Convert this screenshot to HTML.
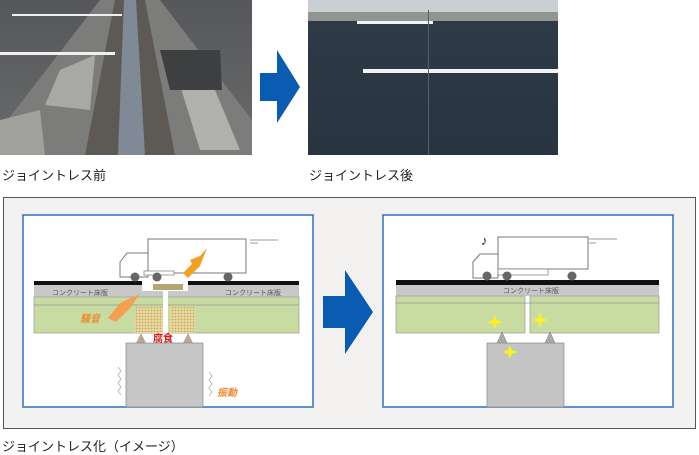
<!DOCTYPE html>
<html><head><meta charset="utf-8"><style>
body{margin:0;width:699px;height:454px;background:#fff;position:relative;overflow:hidden;font-family:"Liberation Sans","Noto Sans CJK JP",sans-serif;}
.a{position:absolute}
.cap{position:absolute;font-size:13px;color:#222;}
</style></head><body>
<svg class="a" style="left:0;top:0" width="699" height="454">
<defs>
<linearGradient id="g1" x1="0" y1="0" x2="0" y2="1"><stop offset="0" stop-color="#55575a"/><stop offset="1" stop-color="#6a6b6c"/></linearGradient>
<linearGradient id="g2" x1="0" y1="0" x2="0" y2="1"><stop offset="0" stop-color="#2f3b48"/><stop offset="1" stop-color="#283440"/></linearGradient>
<pattern id="dots" width="3" height="3" patternUnits="userSpaceOnUse"><rect width="3" height="3" fill="#e8d9a0"/><circle cx="1.5" cy="1.5" r="0.9" fill="#c8a860"/></pattern>
</defs>
<rect x="0" y="0" width="252" height="155" fill="url(#g1)"/>
<polygon points="100,0 160,0 252,120 252,155 0,155 0,130" fill="#7c7c7a"/>
<polygon points="115,0 145,0 175,155 85,155" fill="#5d5a55"/>
<polygon points="124,0 136,0 145,155 118,155" fill="#7f8a96"/>
<polygon points="60,70 95,55 90,110 45,105" fill="#a8a8a4"/>
<polygon points="180,85 215,90 240,150 200,150" fill="#b0b0ac"/>
<polygon points="0,120 40,110 45,155 0,155" fill="#a0a09c"/>
<polygon points="160,50 220,50 222,90 170,90" fill="#3e3f40"/>
<rect x="12" y="14" width="110" height="2" fill="#f0f0f0"/>
<rect x="0" y="52" width="115" height="3" fill="#f0f0f0"/>
<rect x="308" y="0" width="250" height="155" fill="url(#g2)"/>
<rect x="308" y="0" width="250" height="12" fill="#c9cfd2"/>
<rect x="308" y="12" width="250" height="9" fill="#8f9691"/>
<rect x="357" y="21" width="76" height="3" fill="#f3f3f3"/>
<rect x="363" y="69" width="195" height="4" fill="#f3f3f3"/>
<rect x="428" y="10" width="1" height="145" fill="#56606a"/>
<polygon points="260,73 277,73 277,50 300,87 277,123 277,101 260,101" fill="#0a5cb3"/>
<rect x="3.5" y="197.5" width="692" height="231" fill="#f2f1ef" stroke="#555" stroke-width="1"/>
<rect x="23" y="215" width="290" height="192" fill="#fff" stroke="#2e6fc0" stroke-width="1.5"/>
<rect x="383" y="215" width="290" height="192" fill="#fff" stroke="#2e6fc0" stroke-width="1.5"/>
<polygon points="323,296 345,296 345,270 373,312 345,354 345,328 323,328" fill="#0a5cb3"/>
<g>
<rect x="34" y="283" width="265" height="14" fill="#c8c8c8"/>
<rect x="34" y="297" width="265" height="36" fill="#c8dba0" stroke="#999" stroke-width="0.7"/>
<line x1="34" y1="305" x2="299" y2="305" stroke="#999" stroke-width="0.7"/>
<rect x="34" y="281" width="108" height="4" fill="#111"/>
<rect x="188" y="281" width="111" height="4" fill="#111"/>
<rect x="142" y="283" width="46" height="8" fill="#fff"/>
<rect x="153" y="284" width="30" height="6" fill="#b3a670"/>
<rect x="135" y="307" width="28" height="26" fill="url(#dots)"/>
<rect x="170" y="307" width="25" height="26" fill="url(#dots)"/>
<rect x="163" y="290" width="5" height="43" fill="#fff"/>
<polygon points="136,343 141,333 146,343" fill="#b8a890"/>
<polygon points="183,343 188,333 193,343" fill="#b8a890"/>
<rect x="126" y="343" width="77" height="64" fill="#c6c6c6" stroke="#888" stroke-width="0.7"/>
<text x="52" y="295" font-size="7" fill="#555">コンクリート床版</text>
<text x="225" y="295" font-size="7" fill="#555">コンクリート床版</text>
<text x="80" y="322" font-size="10" fill="#f08a30" font-style="italic" font-weight="bold">騒音</text>
<text x="153" y="342" font-size="10" fill="#d02020" font-weight="bold">腐食</text>
<text x="217" y="396" font-size="10" fill="#f08a30" font-style="italic" font-weight="bold">振動</text>
<polygon points="108,318 120,303 140,294 130,308 116,322" fill="#f4a050"/>
<rect x="148" y="239" width="98" height="34" fill="#fff" stroke="#777" stroke-width="1"/>
<path d="M120,277 V262 L127,253 H148 V277 Z" fill="#fff" stroke="#777"/>
<rect x="144" y="271" width="30" height="4" fill="#fff" stroke="#777" stroke-width="0.7"/>
<circle cx="135" cy="277" r="4.5" fill="#666"/><circle cx="157" cy="277" r="4.5" fill="#666"/><circle cx="228" cy="277" r="4.5" fill="#666"/>
<polygon points="183,273 192,264 190,260 200,256 207,248 200,266 188,278" fill="#f3a020"/>
<line x1="250" y1="240" x2="278" y2="240" stroke="#999"/><line x1="250" y1="243" x2="258" y2="243" stroke="#999"/>
<path d="M118,367 l3,4 -3,4 3,4 -3,4 3,4 -3,4 3,4" fill="none" stroke="#bbb"/>
<path d="M209,372 l3,4 -3,4 3,4 -3,4 3,4 -3,4" fill="none" stroke="#bbb"/>
</g>
<g>
<rect x="396" y="280" width="263" height="5" fill="#111"/>
<rect x="396" y="285" width="263" height="11" fill="#c8c8c8"/>
<rect x="396" y="296" width="129" height="37" fill="#c8dba0" stroke="#999" stroke-width="0.7"/>
<rect x="530" y="296" width="129" height="37" fill="#c8dba0" stroke="#999" stroke-width="0.7"/>
<line x1="396" y1="303" x2="659" y2="303" stroke="#999" stroke-width="0.7"/>
<text x="503" y="293" font-size="7" fill="#555">コンクリート床版</text>
<polygon points="497,343 502,332 507,343" fill="#aaa" stroke="#777" stroke-width="0.5"/>
<polygon points="545,343 550,332 555,343" fill="#aaa" stroke="#777" stroke-width="0.5"/>
<rect x="487" y="343" width="77" height="64" fill="#c4c4c4" stroke="#888" stroke-width="0.7"/>
<rect x="498" y="237" width="90" height="32" fill="#fff" stroke="#777"/>
<path d="M473,278 V262 L480,254 H498 V278 Z" fill="#fff" stroke="#777"/>
<rect x="498" y="269" width="50" height="6" fill="#fff" stroke="#777" stroke-width="0.7"/>
<circle cx="487" cy="276" r="4.5" fill="#666"/><circle cx="507" cy="276" r="4.5" fill="#666"/><circle cx="572" cy="276" r="4.5" fill="#666"/>
<line x1="589" y1="239" x2="617" y2="239" stroke="#999"/><line x1="589" y1="243" x2="596" y2="243" stroke="#999"/>
<text x="481" y="245" font-size="13" fill="#222">♪</text>
<g fill="#ffee22"><path d="M495,315 l2,5 6,2 -6,2 -2,5 -2,-5 -6,-2 6,-2z"/><path d="M540,313 l2,5 6,2 -6,2 -2,5 -2,-5 -6,-2 6,-2z"/><path d="M510,345 l2,5 6,2 -6,2 -2,5 -2,-5 -6,-2 6,-2z"/></g>
</g>
</svg>
<div class="cap" style="left:2px;top:165px">ジョイントレス前</div>
<div class="cap" style="left:309px;top:165px">ジョイントレス後</div>
<div class="cap" style="left:2px;top:436px">ジョイントレス化（イメージ）</div>
</body></html>
